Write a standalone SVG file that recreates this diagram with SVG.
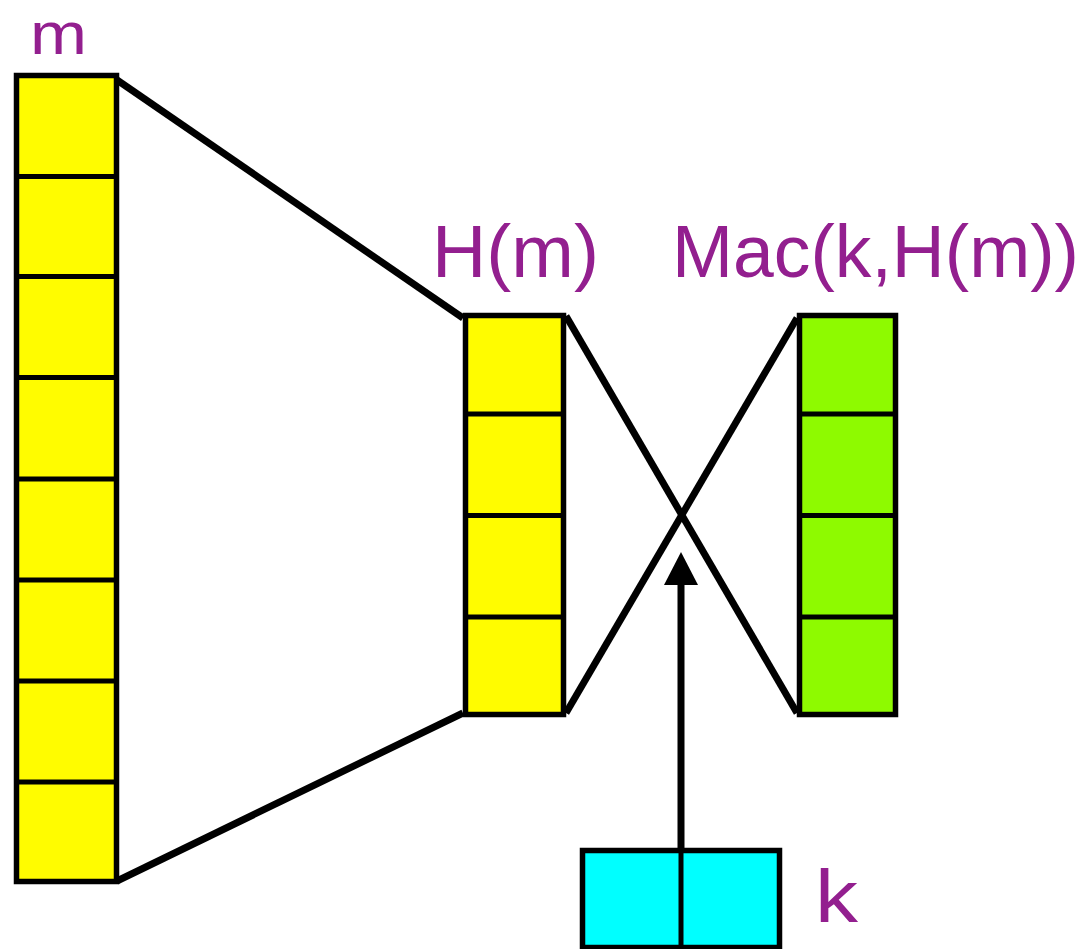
<svg xmlns="http://www.w3.org/2000/svg" width="1083" height="949" viewBox="0 0 1083 949">
<style>
.lbl{font-family:"Liberation Sans",Arial,sans-serif;font-size:74px;fill:#931F8F}
.cell{stroke:#000;stroke-width:5.5}
.div{stroke:#000;stroke-width:5}
.con{stroke:#000;stroke-width:7;fill:none}
</style>
<rect width="1083" height="949" fill="#fff"/>
<g id="connectors">
<line class="con" x1="117" y1="80" x2="463" y2="318"/>
<line class="con" x1="117" y1="881" x2="463" y2="713"/>
<line class="con" x1="566" y1="316" x2="797" y2="713"/>
<line class="con" x1="566" y1="713" x2="797" y2="318"/>
<line class="con" x1="681" y1="848" x2="681" y2="580"/>
<polygon points="681,552 664,585 698,585" fill="#000"/>
</g>
<g id="m">
<rect class="cell" x="16.5" y="75.5" width="100" height="806" fill="#FFFC00"/>
<line class="div" x1="16.5" y1="176.5" x2="116.5" y2="176.5"/>
<line class="div" x1="16.5" y1="276.5" x2="116.5" y2="276.5"/>
<line class="div" x1="16.5" y1="377.5" x2="116.5" y2="377.5"/>
<line class="div" x1="16.5" y1="479" x2="116.5" y2="479"/>
<line class="div" x1="16.5" y1="580" x2="116.5" y2="580"/>
<line class="div" x1="16.5" y1="681" x2="116.5" y2="681"/>
<line class="div" x1="16.5" y1="782" x2="116.5" y2="782"/>
<text class="lbl" x="30" y="54" style="font-size:59px" textLength="57" lengthAdjust="spacingAndGlyphs">m</text>
</g>
<g id="hm">
<rect class="cell" x="465.5" y="315.5" width="98" height="399" fill="#FFFC00"/>
<line class="div" x1="465.5" y1="414" x2="563.5" y2="414"/>
<line class="div" x1="465.5" y1="515.5" x2="563.5" y2="515.5"/>
<line class="div" x1="465.5" y1="617" x2="563.5" y2="617"/>
<text class="lbl" x="432" y="277" textLength="167" lengthAdjust="spacingAndGlyphs">H(m)</text>
</g>
<g id="mac">
<rect class="cell" x="799.5" y="315.5" width="96" height="399" fill="#8EFA00"/>
<line class="div" x1="799.5" y1="414" x2="895.5" y2="414"/>
<line class="div" x1="799.5" y1="515.5" x2="895.5" y2="515.5"/>
<line class="div" x1="799.5" y1="617" x2="895.5" y2="617"/>
<text class="lbl" x="672" y="277" textLength="407" lengthAdjust="spacingAndGlyphs">Mac(k,H(m))</text>
</g>
<g id="k">
<rect class="cell" x="582.5" y="850.5" width="197" height="97" fill="#00FFFF"/>
<line class="div" x1="681" y1="850.5" x2="681" y2="947"/>
<text class="lbl" x="815" y="922" textLength="43" lengthAdjust="spacingAndGlyphs">k</text>
</g>
</svg>
